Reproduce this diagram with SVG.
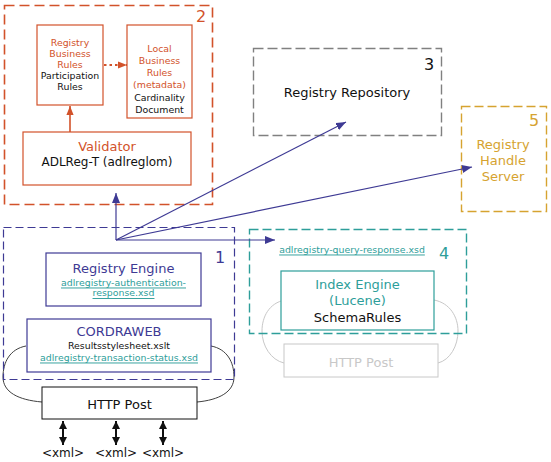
<svg xmlns="http://www.w3.org/2000/svg" width="551" height="462" viewBox="0 0 551 462">
<style>
text{font-family:"DejaVu Sans",Verdana,sans-serif;text-anchor:middle;dominant-baseline:central}
.or{fill:#D2522A}.bl{fill:#3E3A94}.tl{fill:#2E9E9A}.gd{fill:#D6A330}.k{fill:#111}.gr{fill:#C8C8C8}
.s9{font-size:9.4px}.s12{font-size:12px}.s13{font-size:13px}.s16{font-size:16px}
.u{text-decoration:underline}
.box{fill:#fff}
</style>
<defs>
<marker id="ab" viewBox="0 0 10 8" refX="10" refY="4" markerWidth="10" markerHeight="8" markerUnits="userSpaceOnUse" orient="auto"><path d="M0,0 L10,4 L0,8 z" fill="#3E3A94"/></marker>
<marker id="ao" viewBox="0 0 10 8" refX="10" refY="4" markerWidth="9" markerHeight="8" markerUnits="userSpaceOnUse" orient="auto"><path d="M0,0 L10,4 L0,8 z" fill="#D2522A"/></marker>
<marker id="ak" viewBox="0 0 8 8" refX="8" refY="4" markerWidth="8" markerHeight="8" markerUnits="userSpaceOnUse" orient="auto-start-reverse"><path d="M0,0 L8,4 L0,8 z" fill="#111"/></marker>
</defs>
<rect width="551" height="462" fill="#fff"/>

<!-- bracket arcs -->
<g id="arcs" fill="none">
<path d="M26,346 C10,349 3,362 3,377 C3,392 18,400 42,402" stroke="#404040" stroke-width="1"/>
<path d="M211,346 C227,349 234,362 234,377 C234,392 219,400 197,402" stroke="#404040" stroke-width="1"/>
<path d="M285,300 C269,303 262,317 262,331 C262,346 271,360 284,363" stroke="#C8C8C8" stroke-width="1"/>
<path d="M434,300 C450,303 458,317 458,331 C458,346 450,360 438,363" stroke="#C8C8C8" stroke-width="1"/>
</g>

<g id="group2">
<rect x="4.5" y="5.5" width="208" height="199" fill="none" stroke="#D2522A" stroke-width="1.6" stroke-dasharray="10,5"/>
<text class="or s16" x="201" y="16">2</text>
</g>
<g id="regbiz">
<rect x="37" y="25" width="66" height="80" class="box" stroke="#D2522A" stroke-width="1.2"/>
<text class="or s9" x="70" y="42">Registry</text>
<text class="or s9" x="70" y="53">Business</text>
<text class="or s9" x="70" y="64.5">Rules</text>
<text class="k s9" x="70" y="75.5">Participation</text>
<text class="k s9" x="70" y="86.5">Rules</text>
</g>
<g id="localbiz">
<rect x="127" y="25" width="65" height="93" class="box" stroke="#D2522A" stroke-width="1.2"/>
<text class="or s9" x="159.5" y="48">Local</text>
<text class="or s9" x="159.5" y="60.5">Business</text>
<text class="or s9" x="159.5" y="72">Rules</text>
<text class="or s9" x="159.5" y="84.5">(metadata)</text>
<text class="k s9" x="159.5" y="97">Cardinality</text>
<text class="k s9" x="159.5" y="109">Document</text>
</g>
<g id="validator">
<rect x="23" y="132" width="168" height="53" class="box" stroke="#D2522A" stroke-width="1.2"/>
<text class="or s13" x="107" y="146">Validator</text>
<text class="k s12" x="107" y="162">ADLReg-T (adlreglom)</text>
</g>

<g id="group3">
<rect x="253.5" y="48.5" width="188" height="87" fill="none" stroke="#808080" stroke-width="1.4" stroke-dasharray="10,4"/>
<text class="k s16" x="429" y="64">3</text>
<text class="k s13" x="347" y="92">Registry Repository</text>
</g>

<g id="group5">
<rect x="461.5" y="106.5" width="85" height="105" fill="none" stroke="#D6A330" stroke-width="1.4" stroke-dasharray="9,4"/>
<text class="gd s16" x="534" y="120">5</text>
<text class="gd s13" x="503" y="144">Registry</text>
<text class="gd s13" x="503" y="160">Handle</text>
<text class="gd s13" x="503" y="176">Server</text>
</g>

<g id="group1">
<rect x="3.5" y="227.5" width="231" height="152" fill="none" stroke="#3E3A94" stroke-width="1.2" stroke-dasharray="8,4"/>
<text class="bl s16" x="220" y="257">1</text>
</g>
<g id="regengine">
<rect x="46" y="253" width="155" height="53" class="box" stroke="#3E3A94" stroke-width="1.2"/>
<text class="bl s13" x="123.5" y="268">Registry Engine</text>
<text class="tl s9 u" x="123.5" y="282">adlregistry-authentication-</text>
<text class="tl s9 u" x="123.5" y="292.5">response.xsd</text>
</g>
<g id="cordraweb">
<rect x="27" y="319" width="184" height="53" class="box" stroke="#3E3A94" stroke-width="1.2"/>
<text class="bl s13" x="119" y="331">CORDRAWEB</text>
<text class="k s9" x="119" y="345">Resultsstylesheet.xslt</text>
<text class="tl s9 u" x="119" y="357">adlregistry-transaction-status.xsd</text>
</g>
<g id="httppost">
<rect x="42" y="387" width="155" height="32" class="box" stroke="#111" stroke-width="1"/>
<text class="k s13" x="119.5" y="404">HTTP Post</text>
</g>
<g id="xml">
<text class="k s12" x="63" y="453">&lt;xml&gt;</text>
<text class="k s12" x="116" y="453">&lt;xml&gt;</text>
<text class="k s12" x="163" y="453">&lt;xml&gt;</text>
</g>

<g id="group4">
<rect x="249.5" y="229.5" width="217" height="104" fill="none" stroke="#2E9E9A" stroke-width="1.4" stroke-dasharray="9,4"/>
<text class="tl s16" x="444" y="253">4</text>
<text class="tl s9 u" x="352" y="249">adlregistry-query-response.xsd</text>
</g>
<g id="indexengine">
<rect x="281" y="271" width="153" height="59" class="box" stroke="#2E9E9A" stroke-width="1.2"/>
<text class="tl s13" x="357.5" y="284">Index Engine</text>
<text class="tl s13" x="357.5" y="300">(Lucene)</text>
<text class="k s13" x="357.5" y="317">SchemaRules</text>
</g>
<g id="httppost2">
<rect x="284" y="344" width="154" height="33" class="box" stroke="#C8C8C8" stroke-width="1"/>
<text class="gr s13" x="361" y="362">HTTP Post</text>
</g>

<g id="connectors" fill="none">
<line x1="70" y1="132" x2="70" y2="106" stroke="#D2522A" stroke-width="1.6" marker-end="url(#ao)"/>
<line x1="104" y1="65" x2="127" y2="65" stroke="#D2522A" stroke-width="2.2" stroke-dasharray="2.5,3" marker-end="url(#ao)"/>
<line x1="116" y1="240" x2="116" y2="193" stroke="#3E3A94" stroke-width="1.2" marker-end="url(#ab)"/>
<line x1="116" y1="240" x2="275" y2="240" stroke="#3E3A94" stroke-width="1.2" marker-end="url(#ab)"/>
<line x1="116" y1="240" x2="346" y2="122" stroke="#3E3A94" stroke-width="1.2" marker-end="url(#ab)"/>
<line x1="116" y1="240" x2="472" y2="167" stroke="#3E3A94" stroke-width="1.2" marker-end="url(#ab)"/>
<line x1="63" y1="421" x2="63" y2="445" stroke="#111" stroke-width="2" marker-start="url(#ak)" marker-end="url(#ak)"/>
<line x1="116" y1="421" x2="116" y2="445" stroke="#111" stroke-width="2" marker-start="url(#ak)" marker-end="url(#ak)"/>
<line x1="163" y1="421" x2="163" y2="445" stroke="#111" stroke-width="2" marker-start="url(#ak)" marker-end="url(#ak)"/>
</g>
</svg>
